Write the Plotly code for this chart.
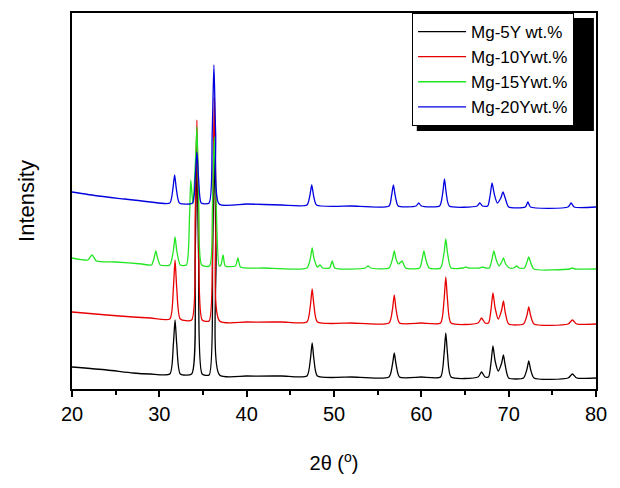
import plotly.graph_objects as go

# ---- data (2theta in degrees, intensity in arbitrary units, already offset) ----
x_5Y = [20, 24, 27, 29, 31.2, 31.6, 31.8, 32.0, 32.4, 33.7, 34.1, 34.3, 34.5, 34.9,
        35.7, 36.1, 36.3, 36.5, 36.9, 40, 44, 46.9, 47.3, 47.5, 47.7, 48.1, 52,
        56.3, 56.7, 56.9, 57.1, 57.5, 60, 62.2, 62.6, 62.8, 63.0, 63.4, 66.5, 66.9,
        67.3, 67.7, 68.0, 68.2, 68.45, 68.8, 69.2, 69.4, 69.6, 70.0, 71.7, 72.1,
        72.3, 72.5, 72.9, 76.8, 77.3, 77.8, 80]
y_5Y = [22, 19, 16, 15, 15, 44, 69, 44, 15, 15, 130, 229, 130, 15,
        14, 135, 239, 135, 14, 13, 13, 13, 30, 46, 30, 13, 12,
        12, 25, 36, 25, 12, 12, 12, 35, 56, 35, 12, 12, 17,
        12, 12, 28, 43, 28, 18, 26, 34, 24, 11, 11, 20,
        28, 20, 11, 11, 15, 11, 11]

x_10Y = [20, 24, 27, 29, 31.2, 31.6, 31.8, 32.0, 32.4, 33.7, 34.1, 34.3, 34.5, 34.9,
         35.7, 36.1, 36.3, 36.5, 36.9, 40, 44, 46.9, 47.3, 47.5, 47.7, 48.1, 52,
         56.3, 56.7, 56.9, 57.1, 57.5, 60, 62.2, 62.6, 62.8, 63.0, 63.4, 66.5, 66.9,
         67.3, 67.7, 68.0, 68.2, 68.45, 68.8, 69.2, 69.4, 69.6, 70.0, 71.7, 72.1,
         72.3, 72.5, 72.9, 76.8, 77.3, 77.8, 80]
y_10Y = [77, 74, 72, 71, 70, 100, 129, 100, 70, 69, 170, 269, 170, 69,
         68, 180, 291, 180, 68, 67, 67, 67, 84, 100, 84, 67, 66,
         66, 80, 94, 80, 66, 66, 66, 89, 112, 89, 66, 66, 71,
         66, 66, 81, 96, 81, 70, 79, 88, 77, 65, 65, 74,
         82, 74, 65, 65, 69, 65, 65]

x_15Y = [20, 21.8, 22.3, 22.8, 25, 28, 29.1, 29.4, 29.6, 29.8, 30.1, 31.2, 31.6, 31.8,
         32.0, 32.4, 33.1, 33.45, 33.6, 33.85, 34.15, 34.3, 34.5, 34.85, 35.75, 36.1,
         36.3, 36.5, 36.85, 37.05, 37.3, 37.55, 38.7, 39.0, 39.3, 42, 46.9, 47.3, 47.5,
         47.7, 48.1, 48.4, 48.7, 49.5, 49.8, 50.1, 53.6, 53.9, 54.2, 56.3, 56.7, 56.9,
         57.1, 57.4, 57.8, 58.2, 59.8, 60.1, 60.3, 60.5, 60.9, 62.2, 62.6, 62.8, 63.0,
         63.4, 64.8, 65.1, 65.4, 66.7, 67.0, 67.4, 67.8, 68.1, 68.3, 68.55, 68.9, 69.2,
         69.4, 69.65, 70.1, 70.6, 70.9, 71.2, 71.8, 72.1, 72.3, 72.5, 72.9, 77.0, 77.3,
         77.6, 80]
y_15Y = [131, 129, 134, 128, 127, 125, 124, 131, 138, 131, 124, 124, 138, 152,
         138, 124, 124, 170, 209, 185, 230, 262, 195, 124, 123, 190,
         252, 190, 123, 124, 134, 123, 123, 131, 122, 121, 121, 131, 141,
         131, 122, 124, 121, 121, 128, 121, 121, 123, 121, 121, 130, 138,
         130, 125, 128, 121, 121, 130, 138, 130, 121, 121, 136, 150, 136,
         121, 121, 122, 121, 121, 122, 121, 121, 130, 138, 130, 123, 127,
         131, 125, 121, 121, 123, 121, 121, 127, 132, 127, 120, 120, 121,
         120, 120]

x_20Y = [20, 23, 26, 29, 31.2, 31.55, 31.75, 31.95, 32.3, 33.8, 34.1, 34.3, 34.5, 34.8,
         35.7, 36.05, 36.25, 36.45, 36.85, 40, 44, 46.9, 47.25, 47.45, 47.65, 48.0, 52,
         56.3, 56.6, 56.8, 57.0, 57.35, 59.4, 59.7, 60.0, 62.1, 62.45, 62.65, 62.85, 63.2,
         66.4, 66.7, 67.0, 67.6, 67.9, 68.1, 68.35, 68.7, 69.1, 69.35, 69.6, 70.0, 71.9,
         72.2, 72.5, 76.8, 77.15, 77.5, 80]
y_20Y = [197, 193, 190, 187, 186, 200, 214, 200, 186, 186, 210, 237, 210, 186,
         186, 255, 324, 255, 185, 185, 184, 184, 194, 204, 194, 184, 183,
         183, 194, 204, 194, 183, 183, 186, 183, 183, 196, 210, 196, 183,
         183, 186, 183, 183, 195, 206, 195, 186, 191, 197, 191, 182, 182,
         187, 182, 182, 186, 182, 182]

series_names = ["Mg-5Y wt.%", "Mg-10Ywt.%", "Mg-15Ywt.%", "Mg-20Ywt.%"]
series_x = [x_5Y, x_10Y, x_15Y, x_20Y]
series_y = [y_5Y, y_10Y, y_15Y, y_20Y]
series_colors = ["#000000", "#e80000", "#22e622", "#0000e0"]

x_ticks = [20, 30, 40, 50, 60, 70, 80]

fig = go.Figure()
for name, xs, ys, c in zip(series_names, series_x, series_y, series_colors):
    fig.add_trace(go.Scatter(x=xs, y=ys, mode="lines", name=name,
                             line=dict(color=c, width=1.3, shape="spline", smoothing=0.6)))

FONT = "Liberation Sans, Arial, sans-serif"

# legend drop shadow (paper coords)
fig.add_shape(type="rect", xref="paper", yref="paper",
              x0=0.658, x1=0.996, y0=0.686, y1=0.987,
              fillcolor="black", line=dict(width=0), layer="above")

fig.update_layout(
    width=620, height=488,
    template="none",
    paper_bgcolor="white", plot_bgcolor="white",
    margin=dict(l=72, r=24, t=13, b=99),
    font=dict(family=FONT, color="black", size=19),
    showlegend=True,
    legend=dict(x=0.649, y=1.0, xanchor="left", yanchor="top",
                bgcolor="white", bordercolor="black", borderwidth=1,
                font=dict(family=FONT, size=17, color="black"),
                tracegroupgap=0, itemwidth=48),
    xaxis=dict(range=[20, 80], tickvals=x_ticks, ticktext=[str(v) for v in x_ticks],
               ticks="outside", ticklen=6, tickwidth=2, tickcolor="black",
               minor=dict(dtick=5, tick0=20, ticks="outside", ticklen=4,
                          tickwidth=2, tickcolor="black", showgrid=False),
               showline=True, linewidth=2, linecolor="black", mirror=True,
               showgrid=False, zeroline=False,
               tickfont=dict(family=FONT, size=20),
               title=dict(text="2θ (<sup>o</sup>)", font=dict(family=FONT, size=20),
                          standoff=32),
               automargin=False),
    yaxis=dict(range=[0, 376], showticklabels=False, ticks="",
               showline=True, linewidth=2, linecolor="black", mirror=True,
               showgrid=False, zeroline=False,
               title=dict(text="Intensity", font=dict(family=FONT, size=22),
                          standoff=29),
               automargin=False),
)

fig.write_html("out.html", config={"displayModeBar": False},
               post_script="document.body.style.margin='0px';")
